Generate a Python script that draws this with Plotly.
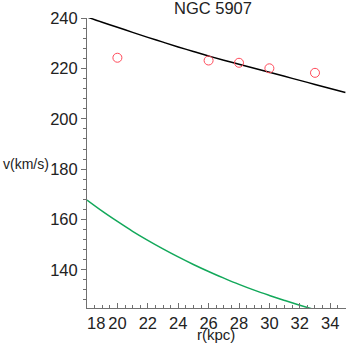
import plotly.graph_objects as go

# observed rotation speeds
r_obs = [20, 26, 28, 30, 33]
v_obs = [224.3, 223.2, 222.3, 220.1, 218.3]

# model curves
r_model = list(range(18, 36))
v_total = [240.5, 238.4, 236.4, 234.4, 232.4, 230.5, 228.6, 226.8, 225.0,
           223.3, 221.7, 220.1, 218.5, 216.9, 215.3, 213.7, 212.1, 210.5]
v_disk = [167.7, 163.3, 159.2, 155.3, 151.7, 148.3, 145.1, 142.1, 139.3,
          136.7, 134.2, 131.9, 129.8, 127.8, 125.9, 124.1, 122.4, 120.9]

x_ticks = [18, 20, 22, 24, 26, 28, 30, 32, 34]
x_text = ["\u00a0\u00a0\u00a0\u00a018"] + [str(t) for t in x_ticks[1:]]

FONT = "Liberation Sans, Arial, sans-serif"
FSIZE = 16.5
TEXT_COLOR = "#222222"
AXIS_COLOR = "#707070"

fig = go.Figure()

fig.add_trace(go.Scatter(
    x=r_model, y=v_total, mode="lines", line_shape="spline",
    line=dict(color="black", width=1.5)
))
fig.add_trace(go.Scatter(
    x=r_model, y=v_disk, mode="lines", line_shape="spline",
    line=dict(color="#12a85a", width=1.5)
))
fig.add_trace(go.Scatter(
    x=r_obs, y=v_obs, mode="markers",
    marker=dict(symbol="circle-open", size=9, color="#ff4a5a", line=dict(width=1))
))

fig.update_layout(
    width=346, height=346,
    margin=dict(l=87, r=0, t=18, b=38, autoexpand=False),
    plot_bgcolor="white", paper_bgcolor="white",
    showlegend=False,
    font=dict(family=FONT, size=FSIZE, color=TEXT_COLOR),
)

fig.update_xaxes(
    range=[18, 35.04], showgrid=False, zeroline=False, automargin=False,
    showline=True, linecolor=AXIS_COLOR, linewidth=1,
    tickmode="array", tickvals=x_ticks, ticktext=x_text, tickangle=0,
    ticks="inside", ticklen=5, tickcolor=AXIS_COLOR,
    minor=dict(dtick=0.5, tick0=0, ticks="inside", ticklen=3, tickcolor=AXIS_COLOR),
)
fig.update_yaxes(
    range=[124.8, 240.1], showgrid=False, zeroline=False, automargin=False,
    showline=True, linecolor=AXIS_COLOR, linewidth=1,
    tickmode="linear", tick0=0, dtick=20,
    ticks="outside", ticklen=5, tickcolor=AXIS_COLOR,
    minor=dict(dtick=4, tick0=0, ticks="outside", ticklen=3, tickcolor=AXIS_COLOR),
)

# title and axis labels placed as free text, like the original
fig.add_annotation(
    text="NGC 5907", xref="paper", yref="paper",
    x=(213 - 87) / 259, y=1, yshift=10, xanchor="center", yanchor="middle",
    showarrow=False, font=dict(family=FONT, size=FSIZE, color=TEXT_COLOR)
)
fig.add_annotation(
    text="r(kpc)", xref="paper", yref="paper",
    x=(216 - 87) / 259, y=0, yshift=-37, xanchor="center", yanchor="bottom",
    showarrow=False, font=dict(family=FONT, size=15, color=TEXT_COLOR)
)
fig.add_annotation(
    text="v(km/s)", xref="paper", yref="y",
    x=-86 / 259, y=182, xanchor="left", yanchor="middle",
    showarrow=False, font=dict(family=FONT, size=14, color=TEXT_COLOR)
)

# drop the default 8px page margin so the figure sits at the window corner
fig.write_html(
    "out.html",
    config={"displayModeBar": False},
    post_script="document.body.style.margin = '0';",
)
